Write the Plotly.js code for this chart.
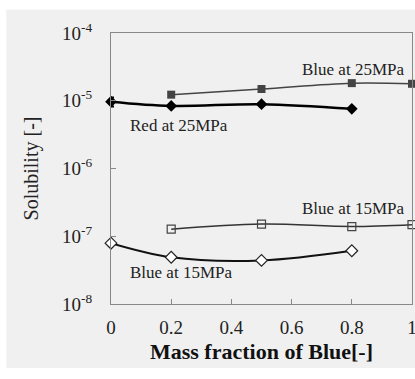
<!DOCTYPE html>
<html><head><meta charset="utf-8">
<script src="https://cdn.plot.ly/plotly-3.0.1.min.js"></script>
<style>
html,body{margin:0;padding:0;background:#ffffff;width:415px;height:379px;overflow:hidden;}
#plot{position:absolute;left:0;top:0;width:415px;height:379px;}
</style></head><body>
<div id="plot"></div>
<script>
const xBlue25 = [0.2, 0.5, 0.8, 1.0];
const yBlue25 = [1.23e-5, 1.49e-5, 1.82e-5, 1.78e-5];
const xRed25 = [0, 0.2, 0.5, 0.8];
const yRed25 = [9.7e-6, 8.4e-6, 8.9e-6, 7.6e-6];
const errRed25 = [1.5e-6, 0, 0, 0];
const xBlue15s = [0.2, 0.5, 0.8, 1.0];
const yBlue15s = [1.27e-7, 1.51e-7, 1.39e-7, 1.48e-7];
const xBlue15d = [0, 0.2, 0.5, 0.8];
const yBlue15d = [7.9e-8, 4.9e-8, 4.4e-8, 6.1e-8];
const errBlue15d = [0, 0, 4e-9, 0];
const yTickVals = [1e-8, 1e-7, 1e-6, 1e-5, 1e-4];
const yTickText = ['10<sup>-8</sup>','10<sup>-7</sup>','10<sup>-6</sup>','10<sup>-5</sup>','10<sup>-4</sup>'];
const xTickVals = [0, 0.2, 0.4, 0.6, 0.8, 1];
const xTickText = ['0','0.2','0.4','0.6','0.8','1'];

const font = 'Liberation Serif, Times New Roman, serif';
const L = 110.7, R = 411.7, T = 33.3, B = 304;
const W = R - L, H = B - T;
const px2x = p => (p - L) / W;
const py2y = p => (B - p) / H;

const traces = [
  {x: xBlue25, y: yBlue25, mode: 'lines+markers', line: {shape: 'spline', color: '#444', width: 1.5},
   marker: {symbol: 'square', size: 8, color: '#444'}, cliponaxis: false},
  {x: xRed25, y: yRed25, mode: 'lines+markers', line: {shape: 'spline', color: '#000', width: 2.5},
   marker: {symbol: 'diamond', size: 9, color: '#000'}, cliponaxis: false,
   error_y: {type: 'data', array: errRed25, color: '#000', thickness: 2, width: 3}},
  {x: xBlue15s, y: yBlue15s, mode: 'lines+markers', line: {shape: 'spline', color: '#333', width: 1.5},
   marker: {symbol: 'square-open', size: 8, color: '#444', line: {width: 1.2}}, cliponaxis: false},
  {x: xBlue15d, y: yBlue15d, mode: 'lines+markers', line: {shape: 'spline', color: '#111', width: 2},
   marker: {symbol: 'diamond', size: 9, color: '#fff', line: {width: 1.2, color: '#222'}}, cliponaxis: false,
   error_y: {type: 'data', array: errBlue15d, color: '#222', thickness: 1.5, width: 3}}
];
const ann = (x, y, t) => ({x: x, y: y, xref: 'x', yref: 'y', text: t, showarrow: false,
  font: {family: font, size: 17, color: '#222'}});
const layout = {
  width: 415, height: 379,
  margin: {l: L, r: 415 - R, t: T, b: 379 - B},
  paper_bgcolor: '#ffffff', plot_bgcolor: 'rgba(0,0,0,0)',
  showlegend: false,
  font: {family: font, size: 19, color: '#222'},
  shapes: [{type: 'rect', xref: 'paper', yref: 'paper', layer: 'below',
    x0: px2x(6), x1: px2x(416), y0: py2y(368), y1: py2y(10),
    fillcolor: '#f0f0f0', line: {width: 0}}],
  xaxis: {range: [0, 1], tickvals: xTickVals, ticktext: xTickText, ticks: 'inside', ticklen: 5,
    tickcolor: '#888', showline: true, linecolor: '#888', linewidth: 1, mirror: true, showgrid: false,
    zeroline: false, tickfont: {family: font, size: 19, color: '#222'}, ticklabeloverflow: 'allow',
    ticklabelstandoff: 6,
    title: {text: 'Mass fraction of Blue[-]', font: {family: font, size: 22, color: '#111', weight: 'bold'}, standoff: 6}},
  yaxis: {type: 'log', range: [-8, -4], tickvals: yTickVals, ticktext: yTickText, ticks: 'inside', ticklen: 5,
    tickcolor: '#888', showline: true, linecolor: '#888', linewidth: 1, mirror: true, showgrid: false,
    zeroline: false, tickfont: {family: font, size: 19, color: '#222'}, ticklabelstandoff: 14,
    title: {text: 'Solubility [-]', font: {family: font, size: 20, color: '#222'}, standoff: 18}},
  annotations: [
    ann(0.803, -4.54, 'Blue at 25MPa'),
    ann(0.227, -5.37, 'Red at 25MPa'),
    ann(0.803, -6.585, 'Blue at 15MPa'),
    ann(0.232, -7.536, 'Blue at 15MPa')
  ]
};
Plotly.newPlot('plot', traces, layout, {displayModeBar: false, staticPlot: true});
</script></body></html>
